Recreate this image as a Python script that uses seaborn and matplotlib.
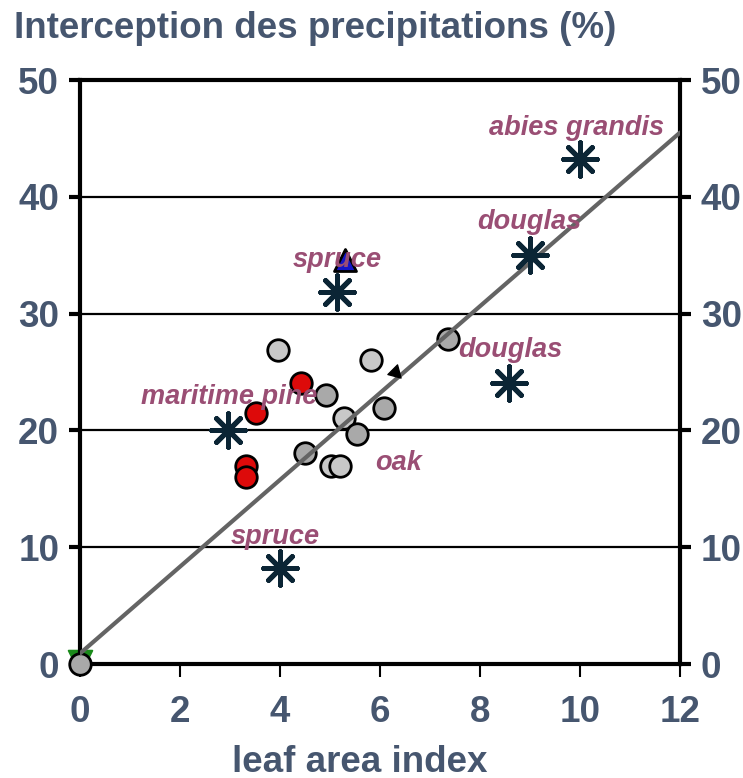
import matplotlib
matplotlib.use("Agg")
import matplotlib.pyplot as plt
import seaborn as sns

sns.set_theme(style="white")
plt.rcParams["font.family"] = ["Liberation Sans", "DejaVu Sans"]

# Conifer stands (asterisks)
conifer_lai = [10.0, 9.0, 8.58, 5.14, 2.96, 4.0]
conifer_int = [43.2, 35.0, 24.1, 31.85, 20.0, 8.2]

# Maritime pine (red circles)
pine_lai = [3.52, 4.42, 3.32, 3.32]
pine_int = [21.5, 24.05, 16.95, 16.0]

# Oak stands, light grey circles
oak_light_lai = [3.96, 5.82, 5.28, 5.02, 5.2]
oak_light_int = [26.9, 26.0, 21.05, 16.95, 16.95]

# Oak stands, darker grey circles
oak_dark_lai = [4.92, 6.08, 5.54, 4.5, 7.36, 0.0]
oak_dark_int = [23.0, 21.9, 19.7, 18.1, 27.8, 0.0]

# Other single observations
spruce_tri_lai, spruce_tri_int = [5.3], [34.6]
arrow_lai, arrow_int = [6.3], [25.0]
origin_lai, origin_int = [0.0], [0.2]

# Linear fit
fit_lai = [0.0, 12.0]
fit_int = [0.9, 45.5]

# Species annotations
label_text = ["abies grandis", "douglas", "douglas", "spruce",
              "maritime pine", "oak", "spruce"]
label_x = [9.93, 8.98, 8.6, 5.15, 2.98, 6.38, 3.9]
label_y = [45.9, 37.8, 26.9, 34.6, 22.9, 17.2, 10.9]

x_ticks = [0, 2, 4, 6, 8, 10, 12]
y_ticks = [0, 10, 20, 30, 40, 50]

text_col = "#46566f"
label_col = "#9a4e74"

fig = plt.figure(figsize=(7.43, 7.78), dpi=100)
ax = fig.add_axes([80 / 743, 1 - 664 / 778, 600 / 743, 584 / 778])

for yv in y_ticks[1:-1]:
    ax.axhline(yv, color="black", lw=1.6, zorder=1)

sns.scatterplot(x=origin_lai, y=origin_int, ax=ax, marker="v", s=290,
                color="#1a8a1a", edgecolor="#1a8a1a", zorder=2, clip_on=False, legend=False)
sns.scatterplot(x=oak_light_lai, y=oak_light_int, ax=ax, marker="o", s=240,
                color="#c8c8c8", edgecolor="black", linewidth=2.0, zorder=3, legend=False)
sns.scatterplot(x=oak_dark_lai, y=oak_dark_int, ax=ax, marker="o", s=240,
                color="#a9a9a9", edgecolor="black", linewidth=2.0, zorder=3,
                clip_on=False, legend=False)
sns.scatterplot(x=pine_lai, y=pine_int, ax=ax, marker="o", s=240,
                color="#dd0a0a", edgecolor="black", linewidth=2.0, zorder=3, legend=False)

sns.lineplot(x=fit_lai, y=fit_int, ax=ax, color="#646464", lw=3.0, zorder=4)

sns.scatterplot(x=conifer_lai, y=conifer_int, ax=ax, marker=(8, 2, 0), s=580,
                color="#0b2535", edgecolor="#0b2535", linewidth=3.6, zorder=5, legend=False)
sns.scatterplot(x=spruce_tri_lai, y=spruce_tri_int, ax=ax, marker="^", s=250,
                color="#1414c8", edgecolor="black", linewidth=2.0, zorder=5, legend=False)
sns.scatterplot(x=arrow_lai, y=arrow_int, ax=ax, marker=(3, 0, -15), s=130,
                color="black", edgecolor="black", zorder=5, legend=False)

for t, lx, ly in zip(label_text, label_x, label_y):
    ax.text(lx, ly, t, ha="center", va="center", fontsize=19.5,
            fontstyle="italic", fontweight="bold", color=label_col, zorder=6)

ax.set_xlim(0, 12)
ax.set_ylim(0, 50)
ax.set_xticks(x_ticks)
ax.set_yticks(y_ticks)
ax.set_xlabel("")
ax.set_ylabel("")

for sp in ax.spines.values():
    sp.set_visible(True)
    sp.set_color("black")
    sp.set_linewidth(3.0)

ax.tick_params(axis="y", which="both", left=True, right=True, labelleft=True,
               labelright=True, direction="out", length=8, width=3,
               color="black", labelsize=26.5, labelcolor=text_col, pad=7)
ax.tick_params(axis="x", which="both", bottom=True, top=False, direction="out",
               length=9, width=1.5, color="black", labelsize=26.5,
               labelcolor=text_col, pad=13)
for lab in ax.get_xticklabels() + ax.get_yticklabels():
    lab.set_fontweight("bold")

fig.text(14 / 743, 1 - 28 / 778, "Interception des precipitations (%)",
         ha="left", va="center", fontsize=26.5, fontweight="bold", color=text_col)
fig.text(360 / 743, 1 - 762 / 778, "leaf area index", ha="center", va="center",
         fontsize=26.5, fontweight="bold", color=text_col)

fig.savefig("out.png", dpi=100, facecolor="white")
